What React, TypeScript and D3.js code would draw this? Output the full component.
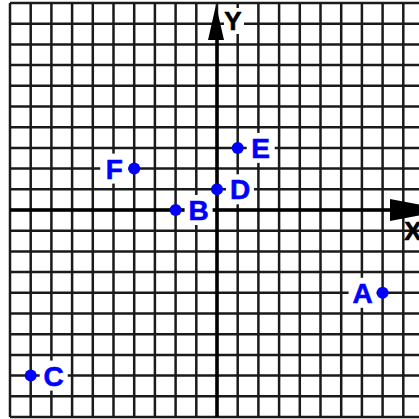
import React from "react";
import * as d3 from "d3";

const pointNames = ["A", "B", "C", "D", "E", "F"];
const pointX = [8, -2, -9, 0, 1, -4];
const pointY = [-4, 0, -8, 1, 3, 2];
const labelLeft = ["A", "F"];
const gridValues = d3.range(-10, 11);
const axisNames = ["X", "Y"];

const W = 419;
const H = 419;
const CELL = 20.7;

export default function App() {
  const x = d3.scaleLinear().domain([-10, 10]).range([10, 10 + CELL * 20]);
  const y = d3.scaleLinear().domain([-10, 10]).range([417, 417 - CELL * 20]);
  const x0 = x(0);
  const y0 = y(0);
  const font = "'Liberation Sans', Arial, sans-serif";

  return (
    <svg
      width={W}
      height={H}
      style={{ position: "fixed", left: 0, top: 0, background: "#fff" }}
    >
      <rect width={W} height={H} fill="#fff" />
      <g stroke="#1a1a1a" strokeWidth={2.5}>
        {gridValues.map((v) => (
          <line key={"v" + v} x1={x(v)} x2={x(v)} y1={y(10)} y2={y(-10)} />
        ))}
        {gridValues.map((v) => (
          <line key={"h" + v} x1={x(-10)} x2={W} y1={y(v)} y2={y(v)} />
        ))}
      </g>
      {/* axes */}
      <line x1={x0} x2={x0} y1={y(-10)} y2={y(10) + 20} stroke="#000" strokeWidth={3.5} />
      <line x1={x(-10)} x2={395} y1={y0} y2={y0} stroke="#000" strokeWidth={3.5} />
      <path
        d={`M${x0 - 1},${y(10) + 2} L${x0 - 9},${y(10) + 37} L${x0 + 7},${y(10) + 37} Z`}
        fill="#000"
      />
      <path d={`M390,${y0 - 11} L448,${y0} L390,${y0 + 11} Z`} fill="#000" />
      {/* axis labels */}
      <rect x={224} y={8} width={20} height={26} fill="#fff" />
      <text
        x={233}
        y={21}
        dy="0.36em"
        textAnchor="middle"
        fontFamily={font}
        fontWeight="bold"
        fontSize={26}
        fill="#000"
        stroke="#000"
        strokeWidth={0.6}
      >
        {axisNames[1]}
      </text>
      <text
        x={413}
        y={231}
        dy="0.36em"
        textAnchor="middle"
        fontFamily={font}
        fontWeight="bold"
        fontSize={26}
        fill="#000"
        stroke="#000"
        strokeWidth={0.6}
      >
        {axisNames[0]}
      </text>
      {/* points */}
      {pointNames.map((n, i) => {
        const px = x(pointX[i]);
        const py = y(pointY[i]);
        const left = labelLeft.includes(n);
        const lx = left ? px - 20 : px + 23;
        return (
          <g key={n}>
            <rect x={lx - 14} y={py - 15} width={28} height={30} fill="#fff" />
            <circle cx={px} cy={py} r={6} fill="#0000ff" />
            <text
              x={lx}
              y={py}
              dy="0.36em"
              textAnchor="middle"
              fontFamily={font}
              fontWeight="bold"
              fontSize={28}
              fill="#0000ff"
              stroke="#0000ff"
              strokeWidth={0.6}
            >
              {n}
            </text>
          </g>
        );
      })}
    </svg>
  );
}
